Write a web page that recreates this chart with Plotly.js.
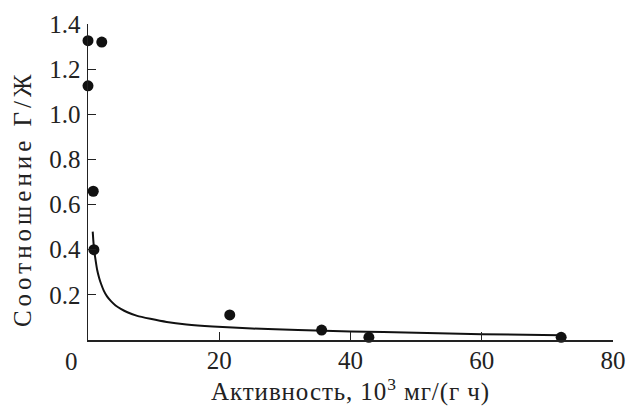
<!DOCTYPE html>
<html>
<head>
<meta charset="utf-8">
<script src="https://cdn.plot.ly/plotly-3.0.1.min.js"></script>
<style>
html,body{margin:0;padding:0;background:#fff;}
#chart{width:626px;height:407px;}
.ytitlelbl text{letter-spacing:4px;}
.xtitle{letter-spacing:0.9px;}
</style>
</head>
<body>
<div id="chart"></div>
<script>
// Measured points
const pointX = [0.0, 2.1, 0.0, 0.8, 0.9, 21.6, 35.6, 42.8, 72.1];
const pointY = [1.326, 1.32, 1.126, 0.659, 0.40, 0.111, 0.044, 0.012, 0.012];
// Fitted curve
const curveX = [0.72, 0.8, 0.9, 1.0, 1.2, 1.4, 1.7, 2.0, 2.4, 2.9, 3.5, 4.2, 5.0, 6.0, 7.5, 9.5, 12, 15, 19, 25, 32, 40, 50, 60, 72];
const curveY = [0.48, 0.445, 0.41, 0.385, 0.345, 0.31, 0.275, 0.248, 0.219, 0.193, 0.172, 0.153, 0.138, 0.123, 0.107, 0.094, 0.080, 0.069, 0.060, 0.051, 0.044, 0.038, 0.032, 0.026, 0.021];
// Tick labels
const xTicks = [20, 40, 60, 80];
const yTicks = [0.2, 0.4, 0.6, 0.8, 1.0, 1.2, 1.4];
const yTickText = ['0.2', '0.4', '0.6', '0.8', '1.0', '1.2', '1.4'];
const xTitle = 'Активность, 10<sup>3</sup> мг/(г ч)';
const yTitle = 'Соотношение Г/Ж';

const fontFam = '"Liberation Serif", "Times New Roman", serif';
const fsz = 25;
const fnt = {family: fontFam, size: fsz, color: '#222'};
const traces = [
  {x: curveX, y: curveY, mode: 'lines', line: {color: '#111', width: 2, shape: 'spline', smoothing: 0.5}, hoverinfo: 'skip', cliponaxis: false},
  {x: pointX, y: pointY, mode: 'markers', marker: {color: '#111', size: 11}, cliponaxis: false}
];
const layout = {
  width: 626, height: 407,
  margin: {l: 88, r: 13, t: 24, b: 67},
  paper_bgcolor: '#fff', plot_bgcolor: '#fff',
  showlegend: false,
  font: fnt,
  xaxis: {
    range: [0, 80], tickvals: xTicks, ticktext: xTicks.map(String),
    ticks: 'inside', ticklen: 8, tickcolor: '#222', tickwidth: 1.2,
    showline: true, linecolor: '#222', linewidth: 1.5, showgrid: false, zeroline: false,
    ticklabelstandoff: -3,
    title: {text: xTitle, font: fnt, standoff: 5}
  },
  yaxis: {
    range: [0, 1.4], tickvals: yTicks, ticktext: yTickText,
    ticks: 'inside', ticklen: 8, tickcolor: '#222', tickwidth: 1.2,
    showline: true, linecolor: '#222', linewidth: 1.5, showgrid: false, zeroline: false,
    ticklabelstandoff: 1
  },
  annotations: [
    {text: '0', x: 0, y: 0, xref: 'x', yref: 'y', showarrow: false, xanchor: 'center', yanchor: 'top', xshift: -17, yshift: -6, font: fnt},
    {text: yTitle, x: -0.1258, y: 0.449, xref: 'paper', yref: 'paper', showarrow: false, textangle: -90, xanchor: 'center', yanchor: 'middle', font: fnt, name: 'ytitlelbl'}
  ]
};
Plotly.newPlot('chart', traces, layout, {displayModeBar: false, staticPlot: true}).then(function(gd){
  const anns = document.querySelectorAll('.annotation');
  if (anns.length > 1) anns[1].classList.add('ytitlelbl');
});
</script>
</body>
</html>
